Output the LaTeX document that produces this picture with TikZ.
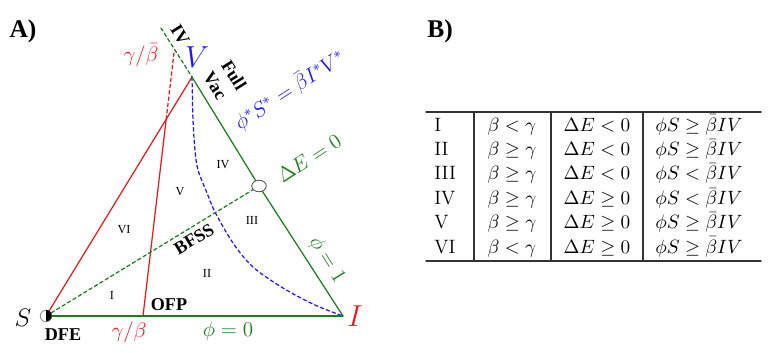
\documentclass[tikz,border=0pt]{standalone}
\usepackage{fontspec}
\newfontfamily\tnr{Liberation Serif}
\usetikzlibrary{shapes.geometric}
\definecolor{phgreen}{RGB}{25,125,25}
\definecolor{phred}{RGB}{235,25,25}
\definecolor{phblue}{RGB}{25,25,240}
\tikzset{
  edge/.style={line width=0.7pt},
  dashedge/.style={line width=0.7pt,dash pattern=on 2pt off 1.6pt},
  rule/.style={line width=0.8pt,black!80},
  regionlbl/.style={font=\tnr\fontsize{7}{8}\selectfont,inner sep=0pt},
  boldlbl/.style={font=\tnr\bfseries\fontsize{10.3}{12}\selectfont,inner sep=0pt},
  mathlbl/.style={font=\fontsize{11.5}{14}\selectfont,inner sep=0pt},
  cell/.style={anchor=base,font=\fontsize{11}{13}\selectfont,inner sep=0pt},
}
\begin{document}
\begin{tikzpicture}[x=0.02cm,y=-0.02cm,line cap=round]
  \useasboundingbox (0,0) rectangle (774,352);
  % panel A
  \node[font=\tnr\bfseries\fontsize{14.5}{17}\selectfont] (pa) at (23,31) {A)};
  \node[font=\tnr\bfseries\fontsize{14.5}{17}\selectfont] (pb) at (440,31) {B)};
  \coordinate (I) at (343,316);
  \coordinate (V) at (192,77);
  \coordinate (vtop) at (161,28);
  \coordinate (ofp) at (143,316);
  \coordinate (rtop) at (174,53);
  \node[circle,draw=black!45,fill=white,line width=0.5pt,minimum size=0.23cm,inner sep=0pt]
    (S) at (46,316) {};
  \fill[black] (S.north) arc[start angle=90,end angle=-90,radius=0.115cm] -- cycle;
  \node[ellipse,draw=black!65,fill=white,line width=0.5pt,minimum width=0.29cm,minimum height=0.23cm,inner sep=0pt]
    (bfss) at (259,186) {};
  \coordinate (cross) at (intersection of S--V and ofp--rtop);
  \draw[edge,phred] (S) -- (V);
  \draw[edge,phred] (ofp) -- (cross);
  \draw[dashedge,phred] (cross) -- (rtop);
  \draw[dashedge,phblue] plot[smooth,tension=0.55] coordinates {(192,77) (193,120) (195,150) (198,170) (207,193) (215,212) (233,243) (253,267) (283,288) (315,305) (343,316)};
  \draw[edge,phgreen] (S) -- (I);
  \draw[dashedge,phgreen] (vtop) -- (V);
  \draw[edge,phgreen] (V) -- (bfss) -- (I);
  \draw[dashedge,phgreen] (S) -- (bfss);
  % corner and line labels
  \node[font=\fontsize{15.5}{18}\selectfont] (Slbl) at (23,318) {$S$};
  \node[font=\fontsize{19}{22}\selectfont,text=phred] (Ilbl) at (355,316) {$I$};
  \node[font=\fontsize{16.5}{19}\selectfont,text=phblue] (Vlbl) at (197,57) {$V$};
  \node[boldlbl] (dfe) at (63,335) {DFE};
  \node[boldlbl] (ofplbl) at (169,305) {OFP};
  \node[boldlbl,rotate=31] (bfsslbl) at (194,239) {BFSS};
  \node[boldlbl,rotate=-58] (ivlbl) at (180,35) {IV};
  \node[boldlbl,rotate=-58] (full) at (234,75) {Full};
  \node[boldlbl,rotate=-58] (vac) at (215,86) {Vac};
  \node[mathlbl,text=phred] (gbb) at (141,55) {$\gamma/\bar{\beta}$};
  \node[mathlbl,text=phred] (gb) at (129,332) {$\gamma/\beta$};
  \node[mathlbl,text=phgreen] (phi0) at (228,331) {$\phi=0$};
  \node[mathlbl,text=phgreen,rotate=-58] (phi1) at (327,260) {$\phi=1$};
  \node[mathlbl,text=phgreen,rotate=33] (de0) at (309,158) {$\Delta E=0$};
  \node[mathlbl,text=phblue,rotate=33] (null) at (290,90) {$\phi^{*}S^{*}=\bar{\beta}I^{*}V^{*}$};
  % regions
  \foreach \lb/\px/\py in {I/112/295,II/207/273,III/252/220,IV/223/165,V/180/192,VI/124/230}
    \node[regionlbl] (reg\lb) at (\px,\py) {\lb};
  % panel B
  \draw[rule] (426,112) -- (761,112);
  \draw[rule] (426,261) -- (761,261);
  \foreach \cx in {474,551,643}
    \draw[rule] (\cx,112) -- (\cx,261);
  \foreach \rn/\ra/\rb/\rc [count=\k] in {I/</</\geq,II/\geq/</\geq,III/\geq/</<,IV/\geq/\geq/<,V/\geq/\geq/\geq,VI/</\geq/\geq}{
    \node[cell,anchor=base west] (r\k) at (434,131+24.4*\k-24.4) {\rn};
    \node[cell] (b\k) at (512,131+24.4*\k-24.4) {$\beta\ra\gamma$};
    \node[cell] (e\k) at (597,131+24.4*\k-24.4) {$\Delta E\rb0$};
    \node[cell] (p\k) at (699,131+24.4*\k-24.4) {$\phi S\rc\bar{\beta}IV$};
  }
\end{tikzpicture}
\end{document}
